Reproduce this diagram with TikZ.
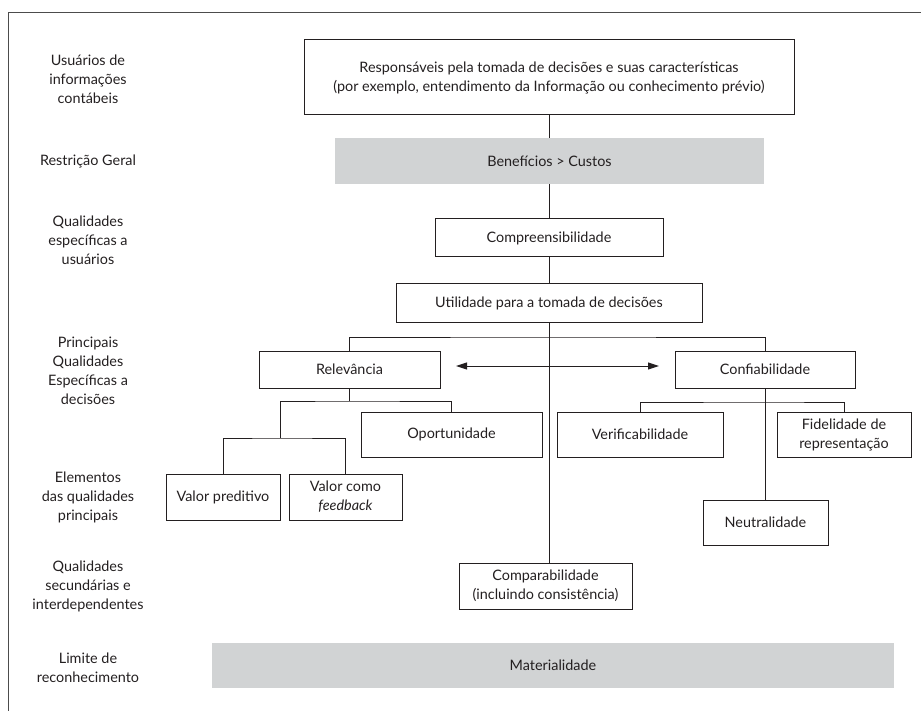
\documentclass[tikz,border=0pt]{standalone}
\usepackage{fontspec}
\setmainfont{Lato}
\usetikzlibrary{arrows.meta}
\definecolor{graybox}{RGB}{209,211,212}
\definecolor{lnc}{RGB}{35,31,32}
\begin{document}
\begin{tikzpicture}[x=1pt,y=-1pt,
  txt/.style={font=\fontsize{14.4}{19}\selectfont, align=center, text=lnc},
  box/.style={txt, draw=lnc, line width=1pt, inner sep=0pt},
  band/.style={txt, fill=graybox, draw=none, inner sep=0pt},
  lbl/.style={txt},
  conn/.style={draw=lnc, line width=1pt},
  dbl/.style={conn, {Triangle[length=11pt,width=7pt]}-{Triangle[length=11pt,width=7pt]}}
]
\useasboundingbox (0,0) rectangle (921,711);
% frame
\coordinate (fbl) at (8,711);
\coordinate (ftl) at (8,13);
\coordinate (ftr) at (921,13);
\draw[conn, draw=black!70] (fbl) -- (ftl) -- (ftr);

% left labels
\node[lbl] (l1) at (88,79) {Usuários de\\informações\\contábeis};
\node[lbl] (l2) at (88,161) {Restrição Geral};
\node[lbl] (l3) at (88,240) {Qualidades\\específicas a\\usuários};
\node[lbl] (l4) at (88,371) {Principais\\Qualidades\\Específicas a\\decisões};
\node[lbl] (l5) at (88,497) {Elementos\\das qualidades\\principais};
\node[lbl] (l6) at (88,586) {Qualidades\\secundárias e\\interdependentes};
\node[lbl] (l7) at (88,668) {Limite de\\reconhecimento};

% boxes
\node[box, minimum width=490pt, minimum height=75pt] (top) at (549,77.5)
  {Responsáveis pela tomada de decisões e suas características\\(por exemplo, entendimento da Informação ou conhecimento prévio)};
\node[band, minimum width=429pt, minimum height=46pt] (benef) at (549.5,161) {Benefícios > Custos};
\node[box, minimum width=228pt, minimum height=38pt] (compr) at (549,238) {Compreensibilidade};
\node[box, minimum width=306pt, minimum height=39pt] (util) at (549,303.5) {Utilidade para a tomada de decisões};
\node[box, minimum width=181pt, minimum height=37pt] (relev) at (349.5,369.5) {Relevância};
\node[box, minimum width=180pt, minimum height=37pt] (conf) at (765,369.5) {Confiabilidade};
\node[box, minimum width=181pt, minimum height=45pt] (oport) at (451.5,434.5) {Oportunidade};
\node[box, minimum width=166pt, minimum height=45pt] (verif) at (640,434.5) {Verificabilidade};
\node[box, minimum width=134pt, minimum height=45pt] (fidel) at (844,434.5) {Fidelidade de\\representação};
\node[box, minimum width=114pt, minimum height=46pt] (valpred) at (223,497) {Valor preditivo};
\node[box, minimum width=113pt, minimum height=46pt] (valfb) at (345.5,497) {Valor como\\\textit{feedback}};
\node[box, minimum width=125pt, minimum height=45pt] (neutr) at (765.5,522.5) {Neutralidade};
\node[box, minimum width=173pt, minimum height=46pt] (compar) at (545.5,586) {Comparabilidade\\(incluindo consistência)};
\node[band, minimum width=682pt, minimum height=45pt] (mater) at (553,665.5) {Materialidade};

% connectors
\coordinate (cx) at (549,0);
\draw[conn] (top.south -| cx) -- (benef.north -| cx);
\draw[conn] (benef.south -| cx) -- (compr.north -| cx);
\draw[conn] (compr.south -| cx) -- (util.north -| cx);
\draw[conn] (util.south -| cx) -- (compar.north -| cx);
\coordinate (hj) at (549,337);
\draw[conn] (relev.north) |- (hj) -| (conf.north);
\coordinate (al) at (456,366);
\coordinate (ar) at (659,366);
\draw[dbl] (al) -- (ar);
% relevance subtree
\coordinate (rj) at (349.5,401);
\coordinate (rl) at (280,401);
\draw[conn] (relev.south) -- (rj);
\draw[conn] (rl) -- (rj) -| (oport.north);
\coordinate (vj) at (280,438);
\draw[conn] (rl) -- (vj);
\draw[conn] (valpred.north) |- (vj) -| (valfb.north);
% reliability subtree
\draw[conn] (conf.south) -- (neutr.north -| conf.south);
\coordinate (cj) at (765,402);
\draw[conn] (verif.north) |- (cj) -| (fidel.north);
\end{tikzpicture}
\end{document}
